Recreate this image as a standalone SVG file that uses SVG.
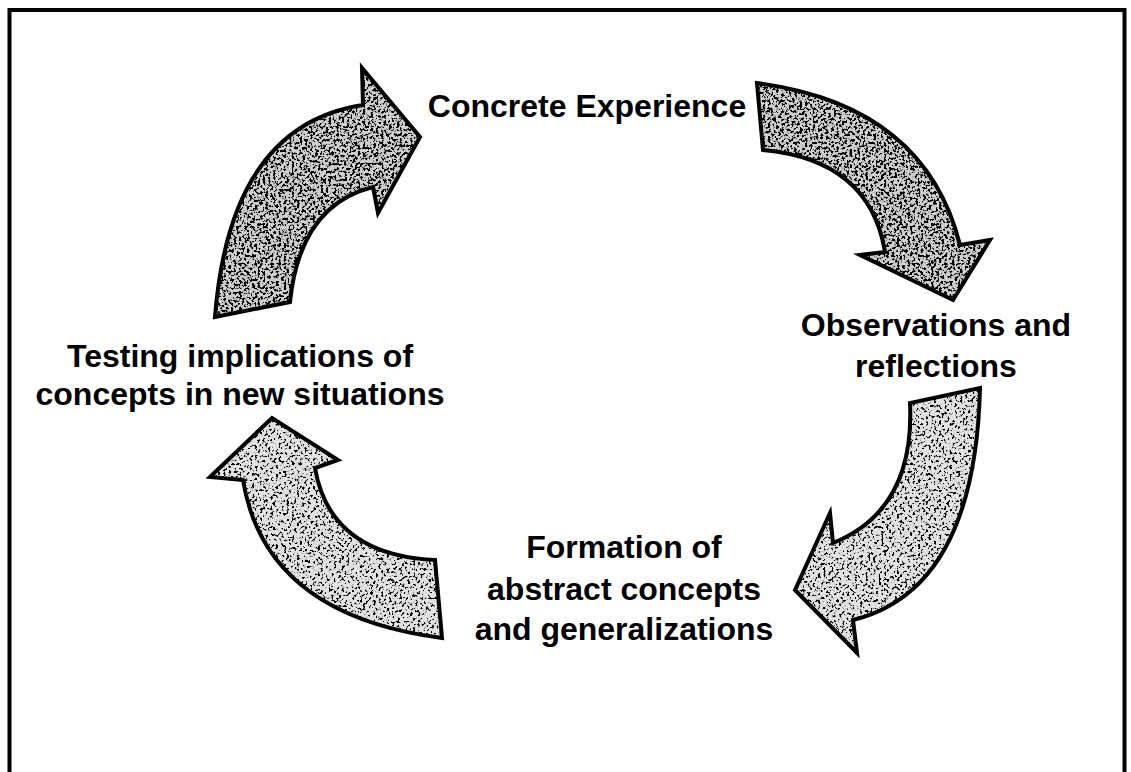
<svg xmlns="http://www.w3.org/2000/svg" xmlns:xlink="http://www.w3.org/1999/xlink" width="1131" height="772" viewBox="0 0 1131 772">
<style>
.lbl{font-family:"Liberation Sans",Arial,sans-serif;font-weight:bold;font-size:32px;fill:#000;text-anchor:middle}
.edge{fill:none;stroke:#000;stroke-width:4;stroke-linejoin:miter}
.fd{fill:#cfcfcf;filter:url(#grainDark)}
.fl{fill:#e2e2e2;filter:url(#grainLight)}
</style>
<defs>
<filter id="grainDark" x="0" y="0" width="100%" height="100%">
<feTurbulence type="fractalNoise" baseFrequency="0.38" numOctaves="2" seed="4" result="n"/>
<feColorMatrix in="n" type="matrix" values="0 0 0 0 0  0 0 0 0 0  0 0 0 0 0  12 0 0 0 -5.9" result="dots"/>
<feComposite in="dots" in2="SourceGraphic" operator="in" result="d"/>
<feMerge><feMergeNode in="SourceGraphic"/><feMergeNode in="d"/></feMerge>
</filter>
<filter id="grainLight" x="0" y="0" width="100%" height="100%">
<feTurbulence type="fractalNoise" baseFrequency="0.38" numOctaves="2" seed="9" result="n"/>
<feColorMatrix in="n" type="matrix" values="0 0 0 0 0  0 0 0 0 0  0 0 0 0 0  12 0 0 0 -6.6" result="dots"/>
<feComposite in="dots" in2="SourceGraphic" operator="in" result="d"/>
<feMerge><feMergeNode in="SourceGraphic"/><feMergeNode in="d"/></feMerge>
</filter>
<path id="a1" d="M215,317 Q230,125 363,105 L362,68 L420,137 L378,213 L373,187 Q300,205 290,302 Z"/>
<path id="a2" d="M757,83 Q925,105 960,245 L990,240 L953,300 L860,255 L885,252 Q870,160 763,150 Z"/>
<path id="a3" d="M980,388 Q975,590 853,620 L857,653 L795,590 L830,513 L833,543 Q915,510 910,403 Z"/>
<path id="a4" d="M442,638 Q265,615 243,480 L210,477 L272,418 L338,460 L315,468 Q330,555 435,560 Z"/>
</defs>
<rect x="9.5" y="10" width="1115" height="780" fill="none" stroke="#000" stroke-width="4"/>
<g id="connectors">
<g id="arrow-ce-obs"><use xlink:href="#a2" class="fd"/><use xlink:href="#a2" class="edge"/></g>
<g id="arrow-obs-form"><use xlink:href="#a3" class="fl"/><use xlink:href="#a3" class="edge"/></g>
<g id="arrow-form-test"><use xlink:href="#a4" class="fl"/><use xlink:href="#a4" class="edge"/></g>
<g id="arrow-test-ce"><use xlink:href="#a1" class="fd"/><use xlink:href="#a1" class="edge"/></g>
</g>
<g id="concrete-experience"><text class="lbl" x="587" y="117">Concrete Experience</text></g>
<g id="observations"><text class="lbl" x="936" y="336">Observations and</text><text class="lbl" x="936" y="377">reflections</text></g>
<g id="formation"><text class="lbl" x="624" y="558">Formation of</text><text class="lbl" x="624" y="600">abstract concepts</text><text class="lbl" x="624" y="640">and generalizations</text></g>
<g id="testing"><text class="lbl" x="240" y="367">Testing implications of</text><text class="lbl" x="240" y="405">concepts in new situations</text></g>
</svg>
